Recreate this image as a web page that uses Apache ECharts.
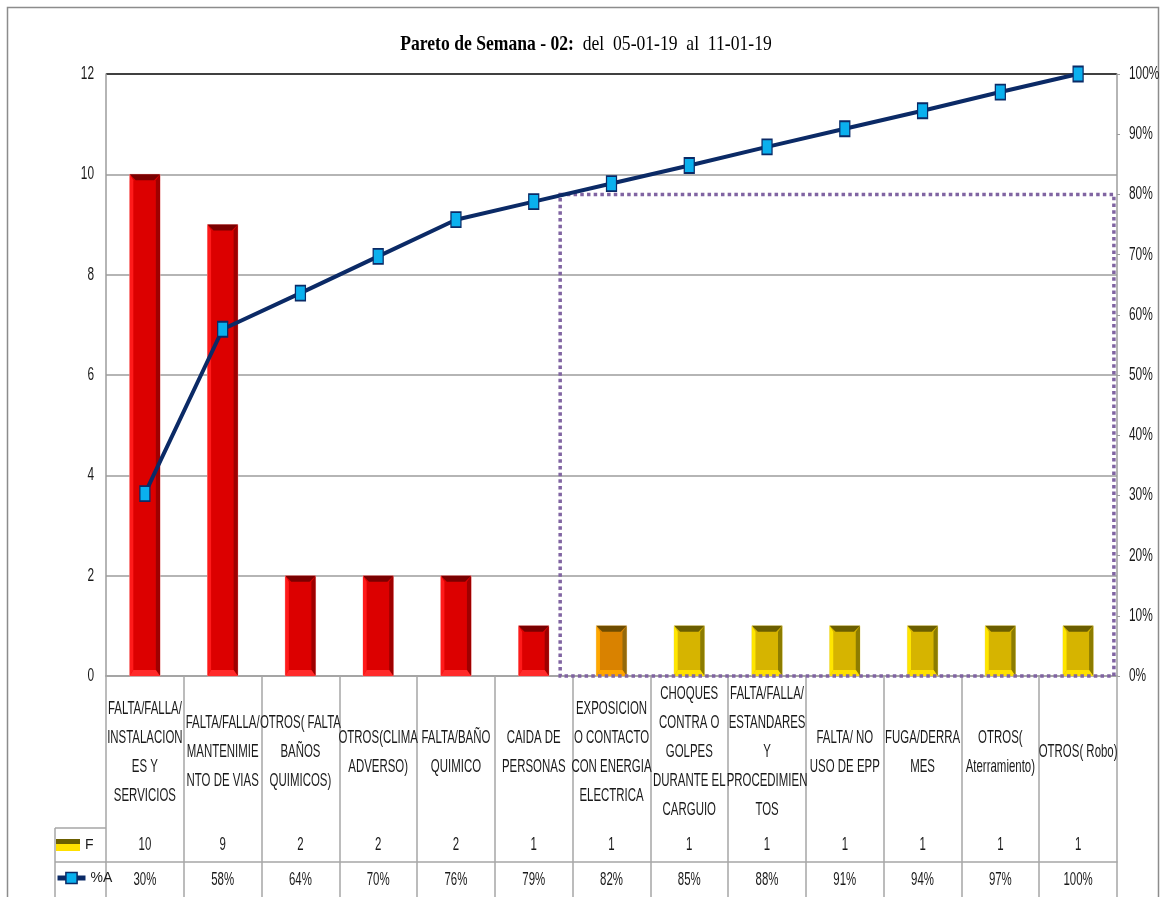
<!DOCTYPE html>
<html>
<head>
<meta charset="utf-8">
<title>Pareto de Semana - 02</title>
<script src="https://cdn.jsdelivr.net/npm/echarts@6/dist/echarts.min.js"></script>
<style>
  html, body { margin: 0; padding: 0; background: #fff; }
  #chart { width: 1163px; height: 897px; }
</style>
</head>
<body>
<div id="chart"></div>
<script>
// categorias (con los saltos de linea tal como salen en la tabla)
const categories = [
  "FALTA/FALLA/\nINSTALACION\nES Y\nSERVICIOS",
  "FALTA/FALLA/\nMANTENIMIE\nNTO DE VIAS",
  "OTROS( FALTA\nBAÑOS\nQUIMICOS)",
  "OTROS(CLIMA\nADVERSO)",
  "FALTA/BAÑO\nQUIMICO",
  "CAIDA DE\nPERSONAS",
  "EXPOSICION\nO CONTACTO\nCON ENERGIA\nELECTRICA",
  "CHOQUES\nCONTRA O\nGOLPES\nDURANTE EL\nCARGUIO",
  "FALTA/FALLA/\nESTANDARES\nY\nPROCEDIMIEN\nTOS",
  "FALTA/ NO\nUSO DE EPP",
  "FUGA/DERRA\nMES",
  "OTROS(\nAterramiento)",
  "OTROS( Robo)"
];
// frecuencia (F)
const freq = [10, 9, 2, 2, 2, 1, 1, 1, 1, 1, 1, 1, 1];
// % acumulado (%A)
const cumPct = [30.3, 57.6, 63.6, 69.7, 75.8, 78.8, 81.8, 84.8, 87.9, 90.9, 93.9, 97.0, 100];
const cumLabels = ["30%", "58%", "64%", "70%", "76%", "79%", "82%", "85%", "88%", "91%", "94%", "97%", "100%"];
// ejes (marcas)
const leftTicks = [0, 2, 4, 6, 8, 10, 12];
const rightTicks = [0, 10, 20, 30, 40, 50, 60, 70, 80, 90, 100];
const leftMin = 0, leftMax = 12, leftStep = 2;
const rightMin = 0, rightMax = 100, rightStep = 10;
// zona punteada (indices de categoria, %)
const zoneFrom = 5.34, zoneTo = 12.46, zoneTop = 80;

// tono de cada barra
const barTone = ["red", "red", "red", "red", "red", "red", "orange",
  "gold", "gold", "gold", "gold", "gold", "gold"];
const tones = {
  red: { face: "#dc0000", left: "#ff1a1a", top: "#7a0000", right: "#9e0000", bottom: "#ff2a2a", edge: "#f5b0b0" },
  orange: { face: "#d98200", left: "#ffa800", top: "#6e4c00", right: "#94690a", bottom: "#ffa500", edge: "#f0d4a0" },
  gold: { face: "#d6b400", left: "#ffe600", top: "#6b5e00", right: "#8c7c00", bottom: "#ffe000", edge: "#eee2a0" }
};

// texto comprimido horizontalmente (como en el original)
const sans = "Liberation Sans";
const tableSize = 18.5;
const tableScale = (function () {
  const ctx = document.createElement("canvas").getContext("2d");
  ctx.font = tableSize + 'px "' + sans + '"';
  return 74 / ctx.measureText("FALTA/FALLA/").width;
})();
const axisSize = 18;
const axisScale = 0.66;

const txt = "#1a1a1a";
const gray = "#9c9c9c";
const navy = "#0b2a66";
const cyan = "#0ab0ee";
const xLo = -0.5, xHi = categories.length - 0.5;

function squeezed(text, x, y, size, scale, align) {
  return {
    type: "text",
    x: x, y: y, scaleX: scale,
    style: {
      text: text, align: align, verticalAlign: "middle",
      fontFamily: sans, fontSize: size, lineHeight: 29, fill: txt
    }
  };
}

function renderBevelBar(params, api) {
  const idx = api.value(0);
  const top = api.coord([idx, api.value(1)]);
  const base = api.coord([idx, 0]);
  const w = api.size([1, 0])[0] * 0.39;
  const x0 = top[0] - w / 2, x1 = top[0] + w / 2;
  const y0 = top[1], y1 = base[1];
  const b = Math.min(6, (y1 - y0) / 2);
  const t = tones[barTone[params.dataIndex]];
  return {
    type: "group",
    children: [
      { type: "rect", shape: { x: x0, y: y0, width: w, height: y1 - y0 }, style: { fill: t.face, stroke: t.edge, lineWidth: 0.8 } },
      { type: "polygon", shape: { points: [[x0, y0], [x1, y0], [x1 - b, y0 + b], [x0 + b, y0 + b]] }, style: { fill: t.top } },
      { type: "polygon", shape: { points: [[x0, y0], [x0 + b * 0.6, y0 + b], [x0 + b * 0.6, y1 - b], [x0, y1]] }, style: { fill: t.left } },
      { type: "polygon", shape: { points: [[x1, y0], [x1, y1], [x1 - b * 0.7, y1 - b], [x1 - b * 0.7, y0 + b]] }, style: { fill: t.right } },
      { type: "polygon", shape: { points: [[x0, y1], [x0 + b * 0.6, y1 - b], [x1 - b * 0.7, y1 - b], [x1, y1]] }, style: { fill: t.bottom } }
    ]
  };
}

// textos de la tabla: categoria, F y %A bajo cada columna
function renderTable(params, api) {
  const i = api.value(0);
  const p = api.coord([i, 0]);
  return {
    type: "group",
    children: [
      squeezed(categories[i], p[0], p[1] + 76, tableSize, tableScale, "center"),
      squeezed(String(freq[i]), p[0], p[1] + 169, tableSize, tableScale, "center"),
      squeezed(cumLabels[i], p[0], p[1] + 204, tableSize, tableScale, "center")
    ]
  };
}

// etiquetas del eje izquierdo
function renderLeftLabel(params, api) {
  const v = api.value(0);
  const p = api.coord([xLo, v]);
  return squeezed(String(v), p[0] - 12, p[1], axisSize, axisScale, "right");
}

// etiquetas del eje derecho
function renderRightLabel(params, api) {
  const v = api.value(0);
  const p = api.coord([xHi, v]);
  return squeezed(v + "%", p[0] + 12, p[1], axisSize, axisScale, "left");
}

// rectangulo punteado de la zona 80%
function renderZone(params, api) {
  const a = api.coord([api.value(0), api.value(2)]);
  const b = api.coord([api.value(1), 0]);
  return {
    type: "rect",
    shape: { x: a[0], y: a[1], width: b[0] - a[0], height: b[1] - a[1] },
    style: { fill: null, stroke: "#8064a2", lineWidth: 3.5, lineDash: [3.5, 3.2] }
  };
}

const chart = echarts.init(document.getElementById("chart"));

const legendText = { color: txt, fontFamily: sans, fontSize: 14 };

const option = {
  backgroundColor: "#fff",
  animation: false,
  grid: { left: 106, right: 46, top: 74, bottom: 221, containLabel: false, outerBoundsMode: "none" },
  legend: [
    {
      left: 56, top: 838, padding: 0,
      itemWidth: 24, itemHeight: 12, itemGap: 2,
      selectedMode: false,
      textStyle: legendText,
      data: [{
        name: "F",
        icon: "rect",
        itemStyle: {
          color: {
            type: "linear", x: 0, y: 0, x2: 0, y2: 1,
            colorStops: [
              { offset: 0, color: "#6b5e00" }, { offset: 0.45, color: "#6b5e00" },
              { offset: 0.45, color: "#ffe000" }, { offset: 1, color: "#ffe000" }
            ]
          }
        }
      }]
    },
    {
      left: 55, top: 871, padding: 0,
      itemWidth: 28, itemHeight: 14, itemGap: 1,
      selectedMode: false,
      textStyle: legendText,
      data: [{
        name: "%A",
        lineStyle: { color: navy, width: 5 },
        itemStyle: { color: cyan, borderColor: navy, borderWidth: 1.5 }
      }]
    }
  ],
  graphic: [
    // marco exterior
    {
      type: "rect", silent: true,
      shape: { x: 7.5, y: 7.5, width: 1151, height: 900 },
      style: { fill: null, stroke: "#8c8c8c", lineWidth: 1.5 }
    },
    // titulo
    {
      type: "text", silent: true,
      x: 586, y: 44, scaleX: 0.8,
      style: {
        text: "{b|Pareto de Semana - 02:}{n|  del  05-01-19  al  11-01-19}",
        align: "center", verticalAlign: "middle",
        rich: {
          b: { fontFamily: "Liberation Serif", fontSize: 22, fontWeight: "bold", fill: "#000" },
          n: { fontFamily: "Liberation Serif", fontSize: 22, fill: "#000" }
        }
      }
    },
    // celdas de la leyenda en la tabla
    {
      type: "group", silent: true,
      children: [
        { type: "line", shape: { x1: 55, y1: 828, x2: 106, y2: 828 }, style: { stroke: "#a6a6a6", lineWidth: 1.5 } },
        { type: "line", shape: { x1: 55, y1: 862, x2: 106, y2: 862 }, style: { stroke: "#a6a6a6", lineWidth: 1.5 } },
        { type: "line", shape: { x1: 55, y1: 828, x2: 55, y2: 897 }, style: { stroke: "#a6a6a6", lineWidth: 1.5 } }
      ]
    }
  ],
  xAxis: [
    {
      // fila de categorias (lineas verticales de la tabla)
      type: "category",
      data: categories,
      position: "bottom",
      axisLine: { lineStyle: { color: gray, width: 1.5 } },
      axisTick: { show: true, alignWithLabel: false, interval: 0, length: 221, lineStyle: { color: "#a6a6a6", width: 1.5 } },
      axisLabel: { show: false },
      splitLine: { show: false }
    },
    {
      // linea sobre la fila F
      type: "category",
      data: categories,
      position: "bottom",
      offset: 152,
      axisLine: { lineStyle: { color: "#a6a6a6", width: 1.5 } },
      axisTick: { show: false },
      axisLabel: { show: false }
    },
    {
      // linea sobre la fila %A
      type: "category",
      data: categories,
      position: "bottom",
      offset: 186,
      axisLine: { lineStyle: { color: "#a6a6a6", width: 1.5 } },
      axisTick: { show: false },
      axisLabel: { show: false }
    },
    {
      // eje auxiliar (zona punteada y etiquetas)
      type: "value", show: false,
      min: xLo, max: xHi
    }
  ],
  yAxis: [
    {
      type: "value",
      position: "left",
      min: leftMin, max: leftMax, interval: leftStep,
      axisLine: { show: true, onZero: false, lineStyle: { color: gray, width: 1.5 } },
      axisTick: { show: false },
      axisLabel: { show: false },
      splitLine: {
        lineStyle: {
          color: ["#9c9c9c", "#9c9c9c", "#9c9c9c", "#9c9c9c", "#9c9c9c", "#9c9c9c", "#000"],
          width: 1.5
        }
      }
    },
    {
      type: "value",
      position: "right",
      min: rightMin, max: rightMax, interval: rightStep,
      axisLine: { show: true, onZero: false, lineStyle: { color: gray, width: 1.5 } },
      axisTick: { show: true, length: 3, lineStyle: { color: gray } },
      axisLabel: { show: false },
      splitLine: { show: false }
    }
  ],
  series: [
    {
      name: "F",
      type: "custom",
      xAxisIndex: 0,
      yAxisIndex: 0,
      renderItem: renderBevelBar,
      encode: { x: 0, y: 1 },
      data: freq.map((v, i) => [i, v]),
      z: 2
    },
    {
      name: "%A",
      type: "line",
      xAxisIndex: 0,
      yAxisIndex: 1,
      data: cumPct,
      symbol: "rect",
      symbolSize: [10, 15],
      lineStyle: { color: navy, width: 4 },
      itemStyle: { color: cyan, borderColor: navy, borderWidth: 1.5 },
      z: 5
    },
    {
      name: "zona",
      type: "custom",
      xAxisIndex: 3,
      yAxisIndex: 1,
      silent: true,
      clip: false,
      renderItem: renderZone,
      encode: { x: [0, 1], y: 2 },
      data: [[zoneFrom, zoneTo, zoneTop]],
      z: 4
    },
    {
      name: "tabla",
      type: "custom",
      xAxisIndex: 0,
      yAxisIndex: 0,
      silent: true,
      clip: false,
      renderItem: renderTable,
      encode: { x: 0, y: 1 },
      data: categories.map((c, i) => [i, 0]),
      z: 3
    },
    {
      name: "ejeIzq",
      type: "custom",
      xAxisIndex: 3,
      yAxisIndex: 0,
      silent: true,
      clip: false,
      renderItem: renderLeftLabel,
      encode: { y: 0 },
      data: leftTicks.map(v => [v])
    },
    {
      name: "ejeDer",
      type: "custom",
      xAxisIndex: 3,
      yAxisIndex: 1,
      silent: true,
      clip: false,
      renderItem: renderRightLabel,
      encode: { y: 0 },
      data: rightTicks.map(v => [v])
    }
  ]
};

chart.setOption(option);
</script>
</body>
</html>
